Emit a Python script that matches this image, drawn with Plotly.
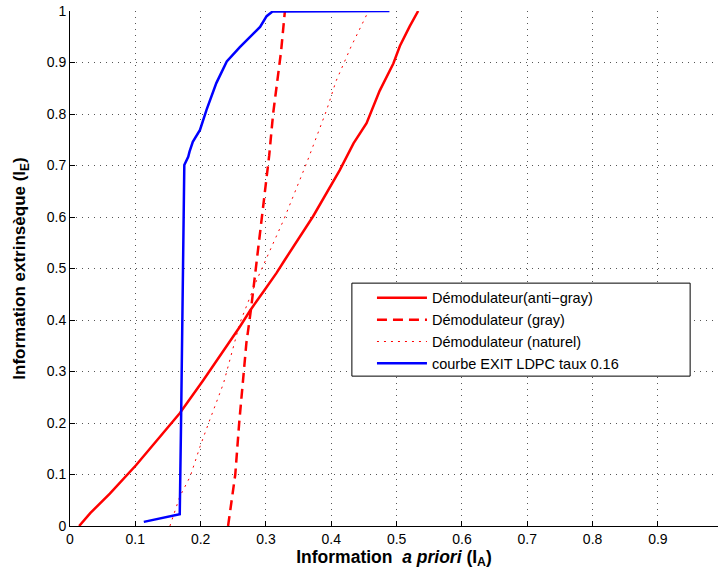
import plotly.graph_objects as go

# LDPC EXIT curve (blue)
ldpc_x = [0.113, 0.168, 0.170, 0.172, 0.175, 0.181, 0.183, 0.188, 0.190, 0.194, 0.199,
          0.209, 0.224, 0.240, 0.260, 0.291, 0.301, 0.310, 0.489]
ldpc_y = [0.008, 0.023, 0.200, 0.450, 0.701, 0.717, 0.727, 0.746, 0.750, 0.759, 0.769,
          0.808, 0.860, 0.902, 0.930, 0.969, 0.990, 0.999, 1.000]

# Démodulateur anti-gray (red solid)
anti_x = [0.014, 0.031, 0.061, 0.101, 0.168, 0.204, 0.260, 0.276, 0.296, 0.316, 0.329,
          0.372, 0.413, 0.434, 0.454, 0.474, 0.495, 0.505, 0.520, 0.533]
anti_y = [0.000, 0.025, 0.063, 0.118, 0.219, 0.283, 0.387, 0.419, 0.455, 0.491, 0.517,
          0.601, 0.691, 0.743, 0.782, 0.845, 0.898, 0.932, 0.970, 1.000]

# Démodulateur gray (red dashed)
gray_x = [0.242, 0.247, 0.253, 0.259, 0.265, 0.270, 0.277, 0.283, 0.291, 0.298, 0.305,
          0.311, 0.318, 0.323, 0.329]
gray_y = [0.000, 0.050, 0.100, 0.200, 0.280, 0.355, 0.420, 0.484, 0.570, 0.652, 0.720,
          0.801, 0.866, 0.920, 1.000]

# Démodulateur naturel (red dotted)
nat_x = [0.153, 0.168, 0.184, 0.199, 0.214, 0.235, 0.260, 0.286, 0.327, 0.362, 0.393,
         0.407, 0.430, 0.457]
nat_y = [0.000, 0.057, 0.096, 0.154, 0.206, 0.277, 0.394, 0.478, 0.594, 0.704, 0.808,
         0.863, 0.930, 1.000]

names = ["Démodulateur(anti\u2212gray)", "Démodulateur (gray)",
         "Démodulateur (naturel)", "courbe EXIT LDPC taux 0.16"]

x_ticks = [0, 0.1, 0.2, 0.3, 0.4, 0.5, 0.6, 0.7, 0.8, 0.9]
y_ticks = [0, 0.1, 0.2, 0.3, 0.4, 0.5, 0.6, 0.7, 0.8, 0.9, 1]

FONT = "Liberation Sans, Arial, Helvetica, sans-serif"

fig = go.Figure()
fig.add_trace(go.Scatter(x=anti_x, y=anti_y, mode="lines", name=names[0],
                         line=dict(color="#FF0000", width=2.5)))
fig.add_trace(go.Scatter(x=gray_x, y=gray_y, mode="lines", name=names[1],
                         line=dict(color="#FF0000", width=2.5, dash="10px,6px")))
fig.add_trace(go.Scatter(x=nat_x, y=nat_y, mode="lines", name=names[2],
                         line=dict(color="#FF0000", width=1, dash="2px,5px")))
fig.add_trace(go.Scatter(x=ldpc_x, y=ldpc_y, mode="lines", name=names[3],
                         line=dict(color="#0000FF", width=2.5)))

axis_common = dict(
    showgrid=True, gridcolor="#555555", gridwidth=1, griddash="1px,5px",
    showline=True, linecolor="black", linewidth=1,
    ticks="inside", ticklen=5, tickcolor="black",
    zeroline=False, tickfont=dict(family=FONT, size=14, color="black"),
)

# legend frame (paper coordinates)
fig.add_shape(type="rect", xref="paper", yref="paper",
              x0=0.435, x1=0.957, y0=0.291, y1=0.4716,
              fillcolor="white", line=dict(color="black", width=1), layer="above")

fig.update_layout(
    width=720, height=571,
    margin=dict(l=70, r=2, t=11, b=45, autoexpand=False),
    paper_bgcolor="white", plot_bgcolor="white",
    font=dict(family=FONT, color="black"),
    xaxis=dict(range=[0, 0.992], tickvals=x_ticks, ticktext=[str(v) for v in x_ticks],
               title=dict(text="<b>Information&nbsp; <i>a priori</i> (I<sub>A</sub>)</b>",
                          font=dict(size=17.5, family=FONT), standoff=3),
               automargin=False, **axis_common),
    yaxis=dict(range=[0, 1], tickvals=y_ticks, ticktext=[str(v) for v in y_ticks],
               title=dict(text="<b>Information extrinsèque (I<sub>E</sub>)</b>",
                          font=dict(size=17, family=FONT), standoff=16),
               automargin=False, **axis_common),
    legend=dict(x=0.466, y=0.474, xanchor="left", yanchor="top",
                bgcolor="rgba(0,0,0,0)", borderwidth=0,
                font=dict(size=14.5, family=FONT, color="black"),
                itemwidth=50),
    showlegend=True,
)

fig.write_html("out.html", config={"displayModeBar": False},
               post_script="document.body.style.margin='0';document.body.style.overflow='hidden';")
